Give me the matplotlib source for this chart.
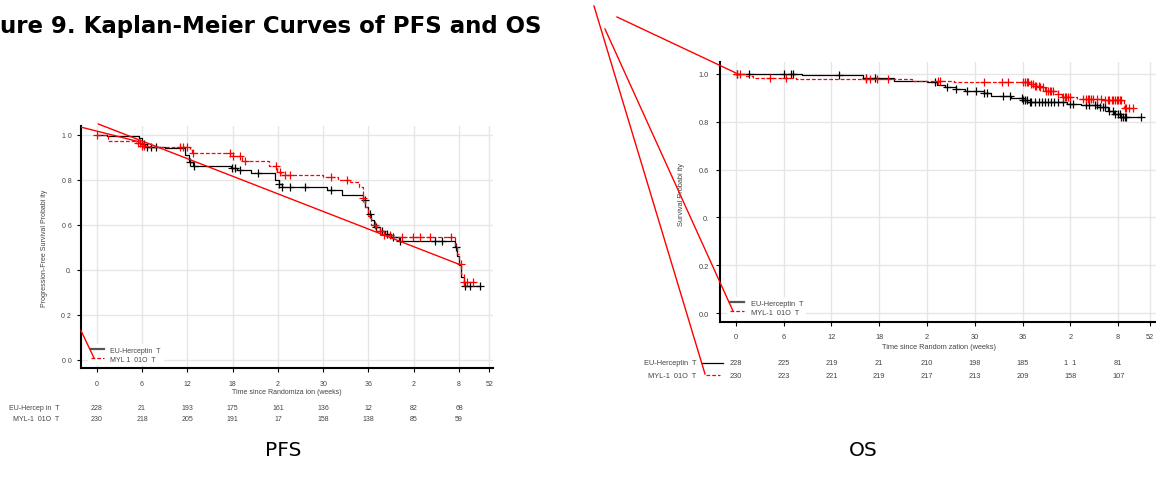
import numpy as np
import matplotlib
matplotlib.use('Agg')
import matplotlib.pyplot as plt
from matplotlib.lines import Line2D
from matplotlib.transforms import blended_transform_factory

W, H = 1156, 481

# ---- PFS: EU-Herceptin (step time, survival after step), censor times
pfs_eu_t = [0, 1.3, 5.6, 6.0, 6.4, 9.0, 11.7, 12.2, 12.8, 17.8, 18.6, 20.5, 23.6, 24.1, 24.6,
            30.5, 32.5, 35.3, 35.6, 35.9, 36.3, 36.8, 37.5, 38.2, 39.0, 40.0, 47.4, 47.7,
            48.0, 48.3, 48.6]
pfs_eu_s = [1.0, 0.994, 0.985, 0.96, 0.948, 0.940, 0.91, 0.881, 0.864, 0.852, 0.843, 0.830,
            0.80, 0.78, 0.767, 0.757, 0.735, 0.71, 0.68, 0.65, 0.62, 0.59, 0.575, 0.56, 0.545,
            0.530, 0.50, 0.46, 0.42, 0.37, 0.33]
pfs_eu_c = [6.3, 6.6, 7.2, 7.8, 12.4, 12.9, 17.9, 18.3, 19.0, 21.4, 24.2, 24.6, 25.6, 27.6,
            31.1, 35.5, 36.2, 37.0, 37.8, 38.5, 39.2, 40.2, 44.8, 45.8, 47.6, 48.8, 49.4, 50.8]

# ---- PFS: MYL-1401O
pfs_myl_t = [0, 1.5, 5.2, 6.0, 7.0, 12.3, 12.6, 17.9, 19.2, 22.8, 23.9, 24.4, 30.0, 32.0,
             33.5, 34.8, 35.3, 35.6, 35.9, 36.3, 37.0, 38.0, 39.2, 47.4, 47.7, 48.0, 48.3, 48.6]
pfs_myl_s = [1.0, 0.975, 0.965, 0.952, 0.945, 0.935, 0.92, 0.908, 0.886, 0.864, 0.835, 0.822,
             0.812, 0.80, 0.79, 0.77, 0.72, 0.68, 0.64, 0.60, 0.575, 0.555, 0.545, 0.51, 0.47,
             0.427, 0.38, 0.345]
pfs_myl_c = [0.0, 5.5, 5.8, 6.0, 6.2, 11.0, 11.4, 11.9, 12.8, 17.7, 18.1, 19.0, 19.6, 23.8,
             24.3, 25.0, 25.6, 31.1, 33.1, 35.3, 36.9, 37.5, 38.1, 38.9, 40.4, 41.9, 42.8, 44.1,
             47.0, 48.2, 48.6, 49.0, 49.9]

# ---- OS: EU-Herceptin
os_eu_t = [0, 8.3, 16.0, 19.8, 24.0, 25.3, 26.3, 27.6, 28.8, 31.1, 32.0, 34.5, 36.0, 36.6,
           41.6, 43.3, 45.4, 46.7, 47.5, 48.3]
os_eu_s = [1.0, 0.992, 0.982, 0.971, 0.964, 0.953, 0.943, 0.936, 0.929, 0.920, 0.906, 0.898,
           0.890, 0.883, 0.874, 0.867, 0.860, 0.846, 0.832, 0.818]
os_eu_c = [0.1, 1.7, 6.1, 6.9, 7.2, 12.9, 16.4, 17.5, 25.0, 26.5, 27.7, 29.0, 30.1, 31.1,
           31.5, 33.6, 34.4, 35.9, 36.1, 36.3, 36.5, 36.9, 37.1, 37.5, 38.0, 38.4, 38.8, 39.2,
           39.6, 40.0, 40.5, 41.1, 41.9, 42.3, 44.0, 44.4, 45.1, 45.3, 45.7, 46.1, 46.3, 46.9,
           47.4, 47.6, 48.0, 48.2, 48.4, 48.6, 48.8, 49.0, 50.9]

# ---- OS: MYL-1401O
os_myl_t = [0, 1.2, 2.2, 7.5, 22.1, 27.4, 36.8, 37.4, 38.1, 38.8, 40.4, 41.0, 42.8, 46.0, 48.7]
os_myl_s = [1.0, 0.989, 0.982, 0.978, 0.971, 0.964, 0.957, 0.950, 0.943, 0.929, 0.915, 0.902,
            0.895, 0.888, 0.856]
os_myl_c = [0.1, 0.5, 4.3, 6.3, 16.4, 16.8, 17.7, 19.1, 25.4, 25.6, 31.1, 33.4, 34.2, 36.1,
            36.3, 36.5, 36.7, 37.1, 37.3, 37.5, 37.7, 38.0, 38.2, 38.6, 39.0, 39.2, 39.4, 39.6,
            39.8, 40.5, 41.1, 41.3, 41.5, 41.7, 41.9, 43.6, 44.0, 44.2, 44.4, 44.6, 44.8, 45.3,
            45.9, 46.3, 46.7, 46.9, 47.2, 47.4, 47.6, 47.8, 48.0, 48.2, 48.4, 48.8, 49.0, 49.4,
            49.8]

# ticks and risk tables (text as it appears in the scan)
x_ticks = [0, 6, 12, 18, 24, 30, 36, 42, 48, 52]
x_ticklabels = ['0', '6', '12', '18', '2', '30', '36', '2', '8', '52']
y_ticks = [0.0, 0.2, 0.4, 0.6, 0.8, 1.0]
pfs_yticklabels = ['0 0', '0 2', '0.', '0 6', '0 8', '1 0']
os_yticklabels = ['0.0', '0.2', '0.', '0.6', '0.8', '1.0']
risk_weeks = [0, 6, 12, 18, 24, 30, 36, 42, 48]
pfs_risk_eu = ['228', '21', '193', '175', '161', '136', '12', '82', '68']
pfs_risk_myl = ['230', '218', '205', '191', '17', '158', '138', '85', '59']
os_risk_eu = ['228', '225', '219', '21', '210', '198', '185', '1  1', '81']
os_risk_myl = ['230', '223', '221', '219', '217', '213', '209', '158', '107']

RED = '#ff0000'
TXT = '#444444'
DASH = (0, (3, 1.6))
plt.rcParams['font.family'] = ['Liberation Sans', 'DejaVu Sans']


def px_axes(fig, left, top, right, bottom):
    return fig.add_axes([left / W, 1 - bottom / H, (right - left) / W, (bottom - top) / H])


def km(ax, t, s, c, color, ls, lw):
    t, s, c = np.asarray(t), np.asarray(s), np.asarray(c)
    t_end = max(t.max(), c.max())
    ax.step(np.append(t, t_end), np.append(s, s[-1]), where='post', color=color, ls=ls, lw=lw)
    idx = np.searchsorted(t, c, side='right') - 1
    ax.plot(c, s[idx], ls='none', marker='+', ms=5.5, mew=0.9, color=color)


def style(ax, xlim, ylim, ylabels, fs, xpad, ypad):
    ax.set_xlim(*xlim)
    ax.set_ylim(*ylim)
    ax.set_xticks(x_ticks)
    ax.set_xticklabels(x_ticklabels)
    ax.set_yticks(y_ticks)
    ax.set_yticklabels(ylabels)
    ax.grid(color='#e6e6e6', lw=1.0)
    ax.set_axisbelow(True)
    for sp in ['top', 'right']:
        ax.spines[sp].set_visible(False)
    for sp in ['left', 'bottom']:
        ax.spines[sp].set_linewidth(1.5)
    ax.tick_params(length=3, width=0.8, labelcolor=TXT, labelsize=fs)
    ax.tick_params(axis='x', pad=xpad)
    ax.tick_params(axis='y', pad=ypad)


def risk_table(ax, rows, labels, ys, fs, xlab):
    tr = blended_transform_factory(ax.transData, ax.transAxes)
    for vals, lab, y in zip(rows, labels, ys):
        ax.text(xlab, y, lab, transform=tr, ha='right', va='center', fontsize=fs, color=TXT)
        for wk, v in zip(risk_weeks, vals):
            ax.text(wk, y, v, transform=tr, ha='center', va='center', fontsize=fs, color=TXT)


fig = plt.figure(figsize=(W / 100, H / 100), dpi=100)

# ---------------- PFS
ax1 = px_axes(fig, 81, 126.7, 493, 369.3)
km(ax1, pfs_eu_t, pfs_eu_s, pfs_eu_c, 'black', '-', 0.9)
km(ax1, pfs_myl_t, pfs_myl_s, pfs_myl_c, RED, DASH, 0.9)
style(ax1, (-2.08, 52.5), (-0.037, 1.041), pfs_yticklabels, 5.0, 5.2, 4.0)
ax1.set_xlabel('Time since Randomiza ion (weeks)', fontsize=5.0, color=TXT)
ax1.xaxis.set_label_coords(0.5, -0.0965)
ax1.xaxis.label.set_va('center')
ax1.set_ylabel('Progression-Free Survival Probabi ity', fontsize=5.0, color=TXT)
ax1.yaxis.set_label_coords(-0.0874, 0.5)
ax1.yaxis.label.set_va('center')
leg1 = ax1.legend(handles=[Line2D([], [], color='#555555', lw=1.6),
                           Line2D([], [], color=RED, ls=DASH, lw=0.9)],
                  labels=['EU-Herceptin  T', 'MYL 1  01O  T'],
                  loc='lower left', bbox_to_anchor=(0.018, 0.012), borderaxespad=0,
                  fontsize=5.0, handlelength=1.9, handletextpad=0.85, labelspacing=0.25,
                  borderpad=0.4, frameon=True, framealpha=1, edgecolor='none', fancybox=False)
for t in leg1.get_texts():
    t.set_color(TXT)
risk_table(ax1, [pfs_risk_eu, pfs_risk_myl], ['EU-Hercep in  T', 'MYL-1  01O  T'],
           [-0.1608, -0.2049], 5.0, -4.95)

# ---------------- OS
ax2 = px_axes(fig, 720, 63.3, 1158, 323.3)
km(ax2, os_eu_t, os_eu_s, os_eu_c, 'black', '-', 0.9)
km(ax2, os_myl_t, os_myl_s, os_myl_c, RED, DASH, 0.9)
style(ax2, (-1.98, 53.0), (-0.037, 1.047), os_yticklabels, 5.3, 5.0, 5.0)
ax2.set_xlabel('Time since Random zation (weeks)', fontsize=5.3, color=TXT)
ax2.xaxis.set_label_coords(0.5, -0.0938)
ax2.xaxis.label.set_va('center')
ax2.set_ylabel('Survival Probabi ity', fontsize=5.3, color=TXT)
ax2.yaxis.set_label_coords(-0.0874, 0.4935)
ax2.yaxis.label.set_va('center')
leg2 = ax2.legend(handles=[Line2D([], [], color='#555555', lw=1.6),
                           Line2D([], [], color=RED, ls=DASH, lw=0.9)],
                  labels=['EU-Herceptin  T', 'MYL-1  01O  T'],
                  loc='lower left', bbox_to_anchor=(0.017, 0.014), borderaxespad=0,
                  fontsize=5.3, handlelength=1.9, handletextpad=0.9, labelspacing=0.25,
                  borderpad=0.4, frameon=True, framealpha=1, edgecolor='none', fancybox=False)
for t in leg2.get_texts():
    t.set_color(TXT)
risk_table(ax2, [os_risk_eu, os_risk_myl], ['EU-Herceptin  T', 'MYL-1  01O  T'],
           [-0.1565, -0.2027], 5.3, -4.9)
tr2 = blended_transform_factory(ax2.transData, ax2.transAxes)
ax2.add_line(Line2D([-4.28, -1.57], [-0.1565, -0.1565], color='black', lw=0.9,
                    transform=tr2, clip_on=False))
ax2.add_line(Line2D([-3.74, -1.98], [-0.2027, -0.2027], color=RED, ls=DASH, lw=0.9,
                    transform=tr2, clip_on=False))

# ---------------- page text
fig.text(0, 1 - 32.6 / H, 'ure 9. Kaplan-Meier Curves of PFS and OS', fontsize=16.5,
         fontweight='bold', family='DejaVu Sans', ha='left', va='baseline')
fig.text(283 / W, 1 - 450 / H, 'PFS', fontsize=14.5, family='DejaVu Sans',
         ha='center', va='center')
fig.text(863 / W, 1 - 450 / H, 'OS', fontsize=14.5, family='DejaVu Sans',
         ha='center', va='center')

# red annotation strokes drawn over the scan (pixel end points)
red_marks = [((81.7, 128.3), (140, 143)), ((98.3, 125), (458.3, 265)),
             ((81, 331.7), (94, 359)), ((594, 7), (705, 375)),
             ((605, 30), (733, 312)), ((617, 18), (736, 74))]
for (x0, y0), (x1, y1) in red_marks:
    fig.add_artist(Line2D([x0 / W, x1 / W], [1 - y0 / H, 1 - y1 / H],
                          transform=fig.transFigure, color=RED, lw=1.0, zorder=10))

fig.savefig('out.png', dpi=100)
